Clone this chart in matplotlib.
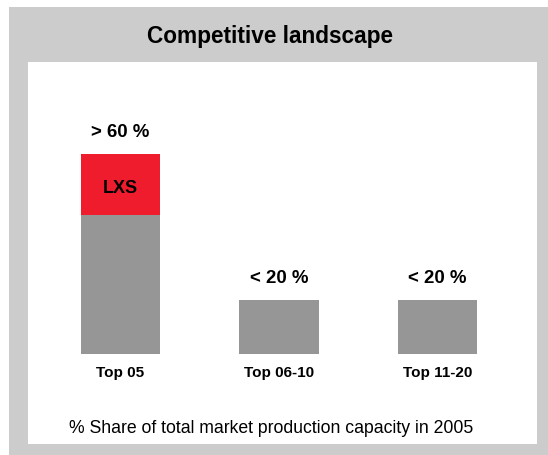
import matplotlib.pyplot as plt
from matplotlib.patches import Rectangle

plt.rcParams['font.family'] = ['Liberation Sans', 'DejaVu Sans']

# data
categories = ["Top 05", "Top 06-10", "Top 11-20"]
others_share = [45, 17.5, 17.3]     # grey part
lxs_share = [20, 0, 0]              # LXS part (red)
bar_labels = ["> 60 %", "< 20 %", "< 20 %"]
title = "Competitive landscape"
footnote = "% Share of total market production capacity in 2005"

W, H = 548, 456
fig = plt.figure(figsize=(W / 100, H / 100), dpi=100)
fig.patch.set_facecolor("white")

# grey frame and white inner panel (pixel coords from top-left)
fig.patches.append(Rectangle((9 / W, 0), 1 - 9 / W, 1 - 8 / H, transform=fig.transFigure,
                             facecolor="#cccccc", edgecolor="none", zorder=-2))
fig.patches.append(Rectangle((28 / W, 1 - 445 / H), (537 - 28) / W, (445 - 63) / H,
                             transform=fig.transFigure, facecolor="white",
                             edgecolor="none", zorder=-1))

fig.text(270 / W, 1 - 43 / H, title, ha="center", va="baseline",
         fontsize=16.3, fontweight="bold")
fig.text(271 / W, 1 - 433 / H, footnote, ha="center", va="baseline", fontsize=12.7)

# axes: x -0.5..2.5 -> px 41.25..516.75, y 0..80 -> baseline 354.5 up 3.077 px/unit
px_per_unit = 200 / 65
ax_left, ax_right = 41.25, 516.75
ax_bottom = 354.5
ax_top = ax_bottom - 80 * px_per_unit
ax = fig.add_axes([ax_left / W, 1 - ax_bottom / H, (ax_right - ax_left) / W,
                   (ax_bottom - ax_top) / H])
ax.set_zorder(1)
ax.set_facecolor("none")
ax.set_xlim(-0.5, 2.5)
ax.set_ylim(0, 80)

x = range(len(categories))
ax.bar(x, others_share, width=0.5, color="#969696", zorder=2)
ax.bar(x, lxs_share, width=0.5, bottom=others_share, color="#ee1c2d", zorder=2)

for i in x:
    total = others_share[i] + lxs_share[i]
    ax.annotate(bar_labels[i], (i, total), xytext=(0, 12.8), textcoords="offset points",
                ha="center", va="baseline", fontsize=13.4, fontweight="bold")
    if lxs_share[i] > 0:
        ax.annotate("LXS", (i, others_share[i] + lxs_share[i] / 2), xytext=(0, -5.5),
                    textcoords="offset points", ha="center", va="baseline",
                    fontsize=13, fontweight="bold")

ax.set_xticks(list(x))
ax.set_xticklabels(categories, fontsize=11, fontweight="bold")
ax.tick_params(axis="x", length=0, pad=8)
ax.set_yticks([])
for s in ax.spines.values():
    s.set_visible(False)

fig.savefig("out.png", dpi=100)
